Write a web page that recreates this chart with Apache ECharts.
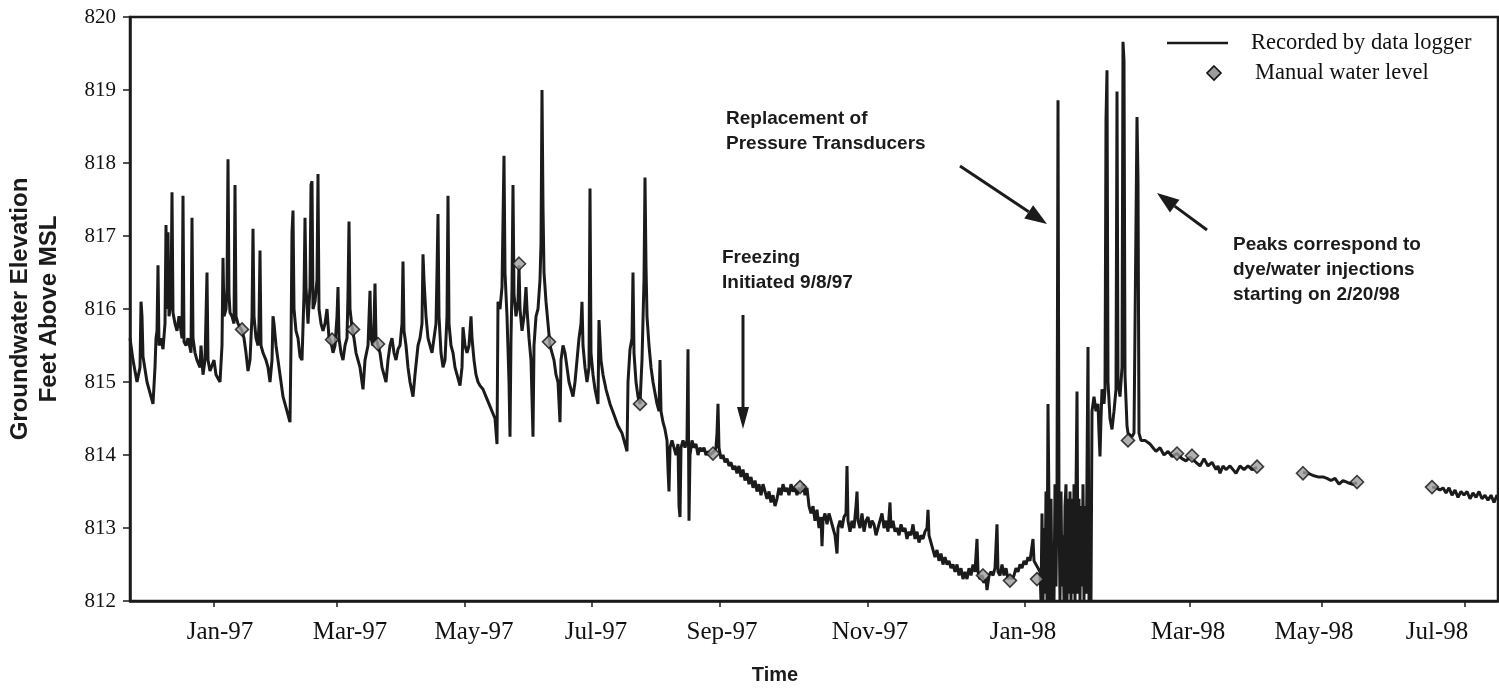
<!DOCTYPE html>
<html>
<head>
<meta charset="utf-8">
<title>Groundwater Elevation</title>
<script src="https://cdn.jsdelivr.net/npm/echarts@6/dist/echarts.min.js"></script>
<style>
  html, body { margin: 0; padding: 0; background: #fff; }
  #chart { width: 1499px; height: 694px; }
</style>
</head>
<body>
<div id="chart"></div>
<script>
// x is the logger record position along the original (non-uniform) time axis
const xTickValues = [84, 207, 335, 462, 590, 738, 895, 1060, 1192, 1335]
const xLabelValues = [90, 220, 344, 466, 592, 740, 893, 1058, 1184, 1307]
const xLabelTexts = ['Jan-97', 'Mar-97', 'May-97', 'Jul-97', 'Sep-97', 'Nov-97', 'Jan-98', 'Mar-98', 'May-98', 'Jul-98']
const yTicks = [812, 813, 814, 815, 816, 817, 818, 819, 820]

// recorded by data logger
const loggerDecMar97 = [
  [0,815.6],[3,815.3],[7,815.0],[10,815.2],[11,816.1],[12,815.9],[13,815.35],[17,815.0],[21,814.8],[23,814.7],
  [25,815.2],[26,815.6],[27,815.7],[28,816.6],[29,815.5],[31,815.6],[33,815.45],[35,815.8],[36,817.15],[37,816.0],
  [38,817.05],[39,815.9],[41,816.1],[42,817.6],[43,815.95],[45,815.8],[47,815.7],[49,815.9],[52,815.6],[53,817.55],
  [54,815.55],[56,815.5],[58,815.6],[61,815.4],[62,817.25],[63,815.6],[65,815.4],[67,815.3],[70,815.2],[71,815.5],
  [73,815.1],[75,815.3],[77,816.5],[78,815.3],[80,815.15],[84,815.3],[86,815.1],[90,815.0],[92,815.5],[93,816.7],
  [94,815.9],[96,816.0],[97,816.3],[98,818.05],[99,816.2],[100,815.95],[102,815.9],[104,815.8],[105,817.7],[106,815.9],
  [108,815.8],[110,815.75],[112,815.7],[114,815.6],[116,815.4],[118,815.15],[120,815.3],[122,815.9],[123,817.1],[124,815.9],
  [126,815.6],[128,815.5],[129,815.8],[130,816.8],[131,815.5],[133,815.4],[136,815.3],[138,815.2],[140,815.0],[142,815.3],
  [143,815.9],[144,815.8],[146,815.5],[148,815.3],[150,815.1],[153,814.8],[155,814.7],[157,814.6],[159,814.5],[160,814.45]
]
const loggerMarMay97 = [
  [161,815.5],[162,817.05],[163,817.35],[164,816.0],[166,815.7],[168,815.6],[170,815.35],[172,815.3],[174,816.2],[175,817.25],
  [176,816.3],[178,815.8],[180,816.3],[181,817.7],[182,817.75],[183,816.0],[185,816.1],[187,816.4],[188,817.85],[189,816.0],
  [191,815.8],[193,815.7],[195,815.8],[197,816.0],[199,815.6],[201,815.55],[203,815.4],[205,815.5],[207,815.9],[208,816.3],
  [209,815.6],[211,815.4],[213,815.3],[215,815.5],[217,815.6],[218,816.2],[219,817.2],[220,816.0],[222,815.75],[224,815.6],
  [226,815.4],[228,815.3],[230,815.2],[232,815.0],[233,814.9],[235,815.3],[238,815.5],[240,816.25],[241,815.6],[243,815.5],
  [244,815.8],[245,816.35],[246,815.6],[248,815.5],[250,815.4],[252,815.2],[254,815.1],[256,815.0],[258,815.3],[260,815.5],
  [262,815.6],[264,815.4],[266,815.3],[268,815.45],[270,815.5],[272,815.8],[273,816.65],[274,815.7],[276,815.5],[278,815.2],
  [280,815.0],[283,814.8],[285,815.1],[288,815.5],[290,815.6],[292,815.8],[293,816.75],[294,816.4],[296,815.9],[298,815.6],
  [300,815.5],[302,815.4],[304,815.6],[306,815.8],[307,816.5],[308,817.3],[309,815.9],[311,815.4],[313,815.2],[315,815.3],
  [317,815.9],[318,817.55],[319,815.8],[321,815.5],[323,815.4],[325,815.2],[327,815.1],[330,814.95],[332,815.2],[333,815.75],
  [335,815.5],[337,815.4],[339,815.5],[341,815.9],[342,815.6],[344,815.3],[346,815.1],[348,815.0],[350,814.95],[353,814.9],
  [356,814.8],[359,814.7],[362,814.6],[365,814.5],[367,814.15]
]
const loggerMayAug97 = [
  [368,816.1],[370,816.0],[372,816.3],[373,817.2],[374,818.1],[375,816.5],[377,815.9],[379,815.0],[380,814.25],[381,815.6],
  [382,816.3],[383,817.7],[384,816.2],[386,815.9],[388,816.1],[389,816.6],[390,816.0],[392,815.7],[394,815.9],[396,816.3],
  [397,816.0],[399,815.6],[401,815.3],[403,814.25],[404,815.5],[406,815.9],[408,816.0],[410,816.4],[411,816.9],[412,819.0],
  [413,817.4],[414,816.5],[416,816.1],[418,815.8],[420,815.5],[422,815.4],[424,815.3],[426,815.1],[428,815.0],[430,814.45],
  [431,815.3],[433,815.5],[435,815.4],[437,815.2],[439,815.0],[441,814.9],[443,814.8],[445,815.0],[447,815.3],[449,815.6],
  [451,815.8],[452,816.1],[453,815.5],[455,815.2],[457,815.0],[459,815.2],[460,817.65],[461,815.4],[463,815.1],[465,814.9],
  [468,814.7],[469,815.85],[471,815.3],[473,815.1],[476,814.9],[480,814.7],[484,814.55],[488,814.4],[492,814.3],[496,814.1],
  [497,814.05],[498,815.0],[500,815.45],[502,815.6],[503,816.5],[504,815.4],[506,815.0],[508,814.8],[510,814.7],[512,815.3],
  [514,816.4],[515,817.8],[516,816.6],[517,815.9],[519,815.5],[521,815.2],[523,815.0],[525,814.85],[527,814.7],[529,814.6],
  [530,815.3],[531,814.6],[533,814.45],[535,814.35],[537,814.2],[538,813.8],[539,813.5],[540,814.1],[542,814.2],[544,814.1],
  [546,814.0],[548,814.15],[549,813.3],[550,813.15],[551,814.1],[553,814.2],[555,814.1],[557,814.2],[558,815.45],[559,813.1],
  [560,814.0],[562,814.2],[564,814.1],[566,814.15],[568,814.0],[570,814.1],[572,814.05],[574,814.1],[576,814.0],[578,814.05]
]
const loggerSepDec97 = [
  [580,814.0],[582,814.0],[584,814.05],[586,814.1],[587,814.3],[588,814.7],[589,814.1],[591,813.95],[593,814.0],[595,813.9],
  [597,813.95],[599,813.85],[601,813.9],[603,813.8],[605,813.85],[607,813.75],[609,813.85],[611,813.7],[613,813.8],[615,813.65],
  [617,813.75],[619,813.6],[621,813.7],[623,813.55],[625,813.65],[627,813.5],[629,813.6],[631,813.45],[633,813.6],[635,813.5],
  [637,813.4],[639,813.5],[641,813.35],[643,813.45],[645,813.3],[647,813.4],[649,813.55],[651,813.45],[653,813.6],[655,813.5],
  [657,813.55],[659,813.45],[661,813.6],[663,813.5],[665,813.55],[667,813.45],[669,813.55],[671,813.5],[673,813.6],[675,813.45],
  [677,813.55],[679,813.3],[681,813.2],[683,813.3],[685,813.1],[687,813.25],[689,813.0],[691,813.15],[692,812.75],[693,813.1],
  [695,813.2],[697,813.05],[699,813.2],[701,813.1],[703,813.0],[705,812.9],[707,812.65],[708,813.0],[710,813.1],[712,813.0],
  [714,813.15],[716,813.2],[717,813.85],[718,813.1],[720,812.95],[722,813.1],[724,813.0],[726,813.3],[727,813.5],[728,813.1],
  [730,813.0],[732,813.2],[734,812.95],[736,813.1],[738,813.15],[740,813.0],[742,813.1],[744,813.05],[746,812.9],[748,813.0],
  [750,813.1],[752,813.2],[754,813.0],[756,813.1],[758,812.95],[760,813.35],[761,813.0],[763,813.1],[765,812.95],[767,813.0],
  [769,812.9],[771,813.05],[773,812.95],[775,813.0],[777,812.85],[779,812.95],[781,812.9],[783,813.05],[785,812.85],[787,812.95],
  [789,812.8],[791,812.9],[793,812.85],[795,812.95],[797,813.0],[798,813.25],[799,812.9],[801,812.8],[803,812.7],[805,812.6],
  [807,812.7],[809,812.55],[811,812.65],[813,812.5],[815,812.6],[817,812.5],[819,812.55],[821,812.45],[823,812.5],[825,812.4],
  [827,812.5],[829,812.35],[831,812.45],[833,812.3],[835,812.4],[837,812.3],[839,812.45],[841,812.35],[843,812.5],[845,812.4],
  [847,812.85],[848,812.4],[850,812.3],[852,812.35],[854,812.25],[856,812.3],[857,812.15],[859,812.35],[861,812.4],[863,812.35],
  [865,812.45],[867,813.05],[868,812.4],[870,812.35],[872,812.5],[874,812.35],[876,812.45],[878,812.3],[880,812.35],[882,812.3],
  [884,812.35],[886,812.45],[888,812.4],[890,812.5],[892,812.45],[894,812.55],[896,812.5],[898,812.6],[900,812.55],[902,812.75],
  [903,812.85],[904,812.55],[906,812.5],[908,812.45],[910,812.4]
]
const loggerJanFeb98 = [
  [911,812.0],[912,813.2],[913,812.0],[914,813.0],[915,812.1],[916,813.5],[917,812.0],[918,814.7],[919,813.3],[920,812.0],
  [921,813.4],[922,812.0],[923,812.8],[924,812.0],[925,813.6],[926,812.2],[927,813.5],[928,818.86],[929,813.3],[930,812.0],
  [931,813.5],[932,812.2],[933,812.9],[934,812.0],[935,813.3],[936,813.6],[937,812.0],[938,813.4],[939,812.1],[940,813.5],
  [941,812.0],[942,813.4],[943,812.1],[944,813.6],[945,812.0],[946,813.5],[947,814.87],[948,812.1],[949,813.4],[950,812.0],
  [951,813.3],[952,812.2],[953,813.6],[954,812.0],[955,813.3],[956,812.1],[958,815.48],[959,812.0],[960,813.1],[961,812.0],
  [962,814.6],[964,814.8],[966,814.6],[968,814.7],[969,814.3],[970,813.98],[971,814.5],[972,814.9],[974,814.7],[975,814.9],
  [976,818.6],[977,819.27],[978,815.0],[980,814.5],[982,814.35],[984,814.6],[986,814.9],[987,818.98],[988,815.0],[990,814.8],
  [992,815.2],[993,819.66],[994,819.4],[995,815.1],[997,814.4],[998,814.3],[1000,814.3],[1002,814.25],[1004,814.3],[1006,814.3],
  [1007,818.63],[1008,817.77],[1009,814.3],[1011,814.2]
]
const loggerFebJul98 = [
  [1015,814.2],[1020,814.15],[1023,814.1],[1026,814.05],[1030,814.1],[1034,814.0],[1038,814.05],[1042,813.98],[1047,814.02],[1052,813.95],
  [1056,813.92],[1060,813.97],[1062,813.99],[1066,813.9],[1070,813.85],[1074,813.95],[1078,813.85],[1082,813.9],[1086,813.8],[1088,813.85],
  [1090,813.75],[1093,813.85],[1096,813.8],[1100,813.85],[1103,813.8],[1106,813.75],[1110,813.85],[1114,813.8],[1118,813.85],[1122,813.8],
  [1127,813.83],[1150,'-'],
  [1173,813.76],[1178,813.75],[1183,813.72],[1188,813.7],[1193,813.7],[1197,813.68],[1201,813.65],[1205,813.68],[1209,813.6],[1213,813.65],
  [1218,813.62],[1222,813.6],[1227,813.62],[1260,'-'],
  [1302,813.56],[1306,813.55],[1310,813.52],[1313,813.55],[1316,813.48],[1319,813.55],[1322,813.45],[1325,813.52],[1328,813.42],[1331,813.5],
  [1334,813.45],[1337,813.5],[1340,813.4],[1343,813.48],[1346,813.42],[1349,813.5],[1352,813.4],[1355,813.45],[1358,813.38],[1361,813.45],
  [1364,813.35],[1367,813.45],[1368,813.4]
]

// manual water level
const manualX = [112, 202, 223, 248, 389, 419, 510, 583, 670, 853, 880, 907, 998, 1047, 1062, 1127, 1173, 1227, 1302]
const manualLevel = [815.72, 815.58, 815.72, 815.52, 816.62, 815.55, 814.7, 814.02, 813.56, 812.35, 812.28, 812.3, 814.2, 814.02, 813.99, 813.84, 813.75, 813.63, 813.56]

const loggerData = [].concat(loggerDecMar97, loggerMarMay97, loggerMayAug97, loggerSepDec97, loggerJanFeb98, loggerFebJul98)
const manualData = manualX.map((x, i) => [x, manualLevel[i]])

const ink = '#1b1b1b'
const sans = '"Liberation Sans", Arial, sans-serif'
const serif = '"Liberation Serif", "Times New Roman", serif'

function arrow(x1, y1, x2, y2, headLen, headWidth) {
  const a = Math.atan2(y2 - y1, x2 - x1)
  const bx = x2 - headLen * Math.cos(a)
  const by = y2 - headLen * Math.sin(a)
  const nx = -Math.sin(a) * headWidth / 2
  const ny = Math.cos(a) * headWidth / 2
  return [
    { type: 'line', shape: { x1: x1, y1: y1, x2: bx, y2: by }, style: { stroke: ink, lineWidth: 3 } },
    { type: 'polygon', shape: { points: [[x2, y2], [bx + nx, by + ny], [bx - nx, by - ny]] }, style: { fill: ink } }
  ]
}

function note(x, y, text) {
  return {
    type: 'text', x: x, y: y,
    style: { text: text, fill: ink, fontFamily: sans, fontWeight: 'bold', fontSize: 19, lineHeight: 25, verticalAlign: 'top' }
  }
}

const chart = echarts.init(document.getElementById('chart'))
chart.setOption({
  backgroundColor: '#fff',
  animation: false,
  grid: {
    left: 130, right: 1, top: 17, bottom: 93,
    outerBoundsMode: 'none',
    containLabel: false,
    show: true, borderColor: ink, borderWidth: 2.5
  },
  xAxis: {
    type: 'value',
    min: 0,
    max: 1368,
    name: 'Time',
    nameLocation: 'middle',
    nameGap: 64,
    nameTextStyle: { color: ink, fontFamily: sans, fontWeight: 'bold', fontSize: 20, padding: [0, 78, 0, 0] },
    axisLine: { lineStyle: { color: ink, width: 2.5 } },
    axisTick: { show: true, customValues: xTickValues, length: 6, lineStyle: { color: ink, width: 1.5 } },
    axisLabel: {
      customValues: xLabelValues,
      margin: 19,
      color: '#111',
      fontFamily: serif,
      fontSize: 25,
      formatter: v => xLabelTexts[xLabelValues.indexOf(v)] || ''
    },
    splitLine: { show: false }
  },
  yAxis: {
    type: 'value',
    min: 812,
    max: 820,
    interval: 1,
    name: 'Groundwater Elevation\nFeet Above MSL',
    nameLocation: 'middle',
    nameRotate: 90,
    nameGap: 66,
    nameTextStyle: { color: ink, fontFamily: sans, fontWeight: 'bold', fontSize: 24, lineHeight: 29 },
    axisLine: { show: true, lineStyle: { color: ink, width: 2.5 } },
    axisTick: { show: true, length: 7, lineStyle: { color: ink, width: 1.5 } },
    axisLabel: {
      margin: 14,
      color: '#111',
      fontFamily: serif,
      fontSize: 21,
      formatter: v => (yTicks.indexOf(v) >= 0 ? String(v) : '')
    },
    splitLine: { show: false }
  },
  series: [
    {
      name: 'Recorded by data logger',
      type: 'line',
      data: loggerData,
      symbol: 'none',
      connectNulls: false,
      lineStyle: { color: ink, width: 3 },
      z: 2
    },
    {
      name: 'Manual water level',
      type: 'scatter',
      data: manualData,
      symbol: 'diamond',
      symbolSize: [13, 13],
      itemStyle: { color: '#9c9c9c', borderColor: '#111', borderWidth: 1.6 },
      z: 3
    }
  ],
  graphic: [
    // legend
    { type: 'line', shape: { x1: 1167, y1: 43, x2: 1228, y2: 43 }, style: { stroke: ink, lineWidth: 2.5 } },
    { type: 'text', x: 1251, y: 43, style: { text: 'Recorded by data logger', fill: '#111', fontFamily: serif, fontSize: 22.5, verticalAlign: 'middle' } },
    { type: 'polygon', shape: { points: [[1214, 66], [1221, 73], [1214, 80], [1207, 73]] }, style: { fill: '#9c9c9c', stroke: '#111', lineWidth: 1.6 } },
    { type: 'text', x: 1255, y: 73, style: { text: 'Manual water level', fill: '#111', fontFamily: serif, fontSize: 22.5, verticalAlign: 'middle' } },
    // annotations
    note(726, 106, 'Replacement of\nPressure Transducers'),
    note(722, 245, 'Freezing\nInitiated 9/8/97'),
    note(1233, 232, 'Peaks correspond to\ndye/water injections\nstarting on 2/20/98')
  ].concat(
    arrow(960, 166, 1047, 224, 22, 16),
    arrow(743, 315, 743, 429, 22, 12),
    arrow(1207, 230, 1157, 193, 22, 16)
  )
})
</script>
</body>
</html>
